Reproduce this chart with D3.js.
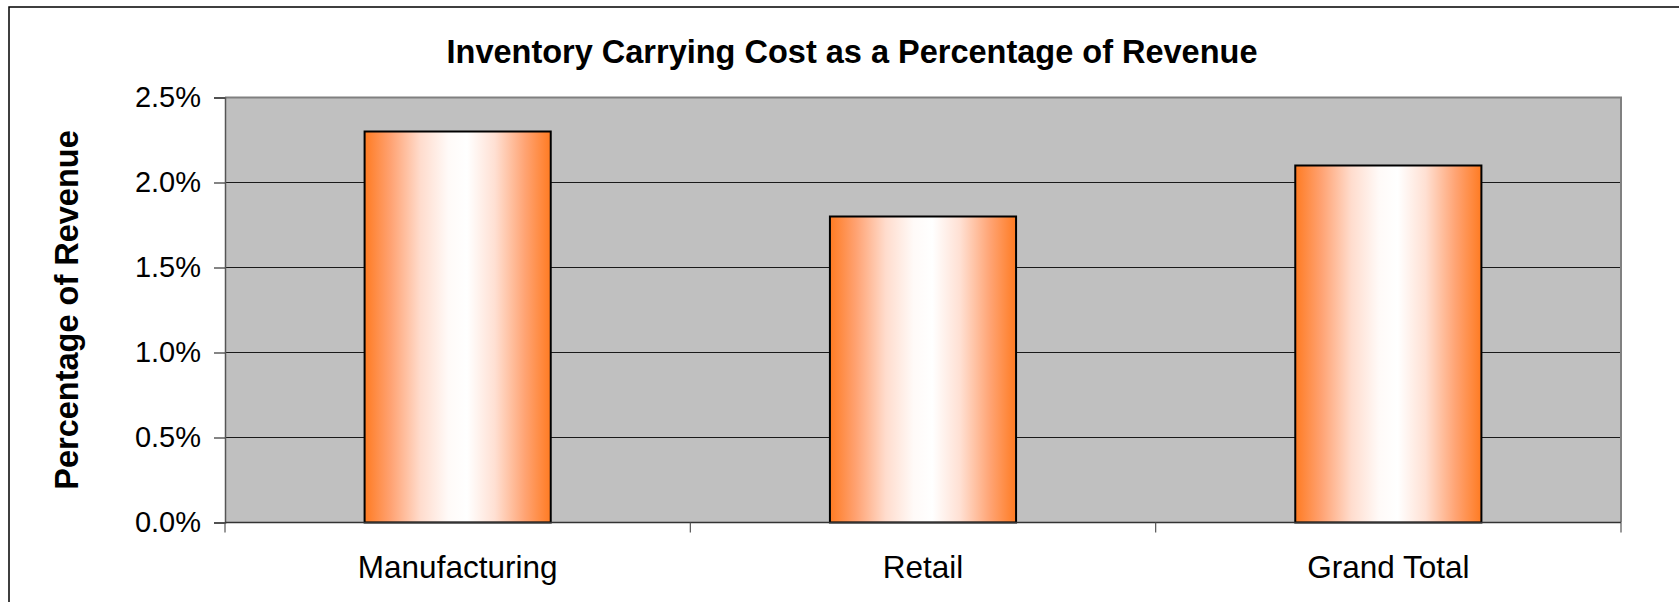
<!DOCTYPE html>
<html>
<head>
<meta charset="utf-8">
<script src="https://cdn.jsdelivr.net/npm/d3@7"></script>
<style>
  html, body { margin: 0; padding: 0; background: #fff; }
  #chart svg { display: block; }
</style>
</head>
<body>
<div id="chart"></div>
<script>
const categories = ['Manufacturing', 'Retail', 'Grand Total'];
const values = [0.023, 0.018, 0.021];
const yTicks = [0, 0.005, 0.01, 0.015, 0.02, 0.025];
const chartTitle = 'Inventory Carrying Cost as a Percentage of Revenue';
const yTitle = 'Percentage of Revenue';

const w = 1679;
const h = 602;
const plot = { left: 225, right: 1621, top: 97.5, bottom: 522.5 };
const font = '"Liberation Sans", Arial, sans-serif';

const svg = d3.select('#chart')
  .append('svg')
  .attr('width', w)
  .attr('height', h);

// bar gradient: orange edges, white middle
const grad = svg.append('defs')
  .append('linearGradient')
  .attr('id', 'barGrad')
  .attr('x1', '0%').attr('x2', '100%')
  .attr('y1', '0%').attr('y2', '0%');
[[0, '#FF7B22'], [0.14, '#FFA272'], [0.3, '#FFDCCD'], [0.45, '#FFFAF8'],
 [0.55, '#FFFFFF'], [0.7, '#FFE0D3'], [0.86, '#FFA474'], [1, '#FF7B22']]
  .forEach(s => grad.append('stop').attr('offset', s[0]).attr('stop-color', s[1]));

// outer frame
svg.append('rect')
  .attr('x', 9).attr('y', 7)
  .attr('width', w + 20).attr('height', h + 20)
  .attr('fill', 'none')
  .attr('stroke', '#000')
  .attr('stroke-width', 1.5);

const xScale = d3.scaleBand()
  .domain(categories)
  .range([plot.left, plot.right])
  .paddingInner(0.6)
  .paddingOuter(0.3);

const yScale = d3.scaleLinear()
  .domain([0, 0.025])
  .range([plot.bottom, plot.top]);

const step = xScale.step();

// plot background
svg.append('rect')
  .attr('x', plot.left).attr('y', plot.top)
  .attr('width', plot.right - plot.left)
  .attr('height', plot.bottom - plot.top)
  .attr('fill', '#C0C0C0');

// gridlines
svg.append('g')
  .selectAll('line')
  .data(yTicks.filter(d => d > 0 && d < 0.025))
  .enter()
  .append('line')
  .attr('x1', plot.left).attr('x2', plot.right)
  .attr('y1', d => yScale(d)).attr('y2', d => yScale(d))
  .attr('stroke', '#1a1a1a')
  .attr('stroke-width', 1.2);

// plot border top/right
svg.append('path')
  .attr('d', `M${plot.left},${plot.top}H${plot.right}V${plot.bottom}`)
  .attr('fill', 'none')
  .attr('stroke', '#808080')
  .attr('stroke-width', 2);

// bars
svg.selectAll('rect.bar')
  .data(values)
  .enter()
  .append('rect')
  .attr('class', 'bar')
  .attr('x', (d, i) => xScale(categories[i]))
  .attr('y', d => yScale(d))
  .attr('width', xScale.bandwidth())
  .attr('height', d => plot.bottom - yScale(d))
  .attr('fill', 'url(#barGrad)')
  .attr('stroke', '#000')
  .attr('stroke-width', 2);

// y axis
const yAxis = d3.axisLeft(yScale)
  .tickValues(yTicks)
  .tickFormat(d3.format('.1%'))
  .tickSize(11)
  .tickPadding(13);

const gy = svg.append('g')
  .attr('transform', `translate(${plot.left},0)`)
  .call(yAxis);
gy.select('.domain').attr('stroke', '#555').attr('stroke-width', 1.5);
gy.selectAll('.tick line').attr('stroke', '#333').attr('stroke-width', 1.2);
gy.selectAll('.tick text')
  .attr('font-family', font)
  .attr('font-size', 29)
  .attr('fill', '#000');

// x axis: baseline and ticks at category boundaries
svg.append('line')
  .attr('x1', plot.left).attr('x2', plot.right)
  .attr('y1', plot.bottom).attr('y2', plot.bottom)
  .attr('stroke', '#333')
  .attr('stroke-width', 1.5);

svg.append('g')
  .selectAll('line')
  .data(d3.range(categories.length + 1))
  .enter()
  .append('line')
  .attr('x1', i => plot.left + i * step).attr('x2', i => plot.left + i * step)
  .attr('y1', plot.bottom).attr('y2', plot.bottom + 10)
  .attr('stroke', '#555')
  .attr('stroke-width', 1.2);

svg.append('g')
  .selectAll('text')
  .data(categories)
  .enter()
  .append('text')
  .attr('x', d => xScale(d) + xScale.bandwidth() / 2)
  .attr('y', 578)
  .attr('text-anchor', 'middle')
  .attr('font-family', font)
  .attr('font-size', 31.5)
  .text(d => d);

// titles
svg.append('text')
  .attr('x', 852)
  .attr('y', 63)
  .attr('text-anchor', 'middle')
  .attr('font-family', font)
  .attr('font-size', 32.5)
  .attr('font-weight', 'bold')
  .text(chartTitle);

svg.append('text')
  .attr('transform', `translate(78,${(plot.top + plot.bottom) / 2}) rotate(-90)`)
  .attr('text-anchor', 'middle')
  .attr('font-family', font)
  .attr('font-size', 32.5)
  .attr('font-weight', 'bold')
  .text(yTitle);
</script>
</body>
</html>
